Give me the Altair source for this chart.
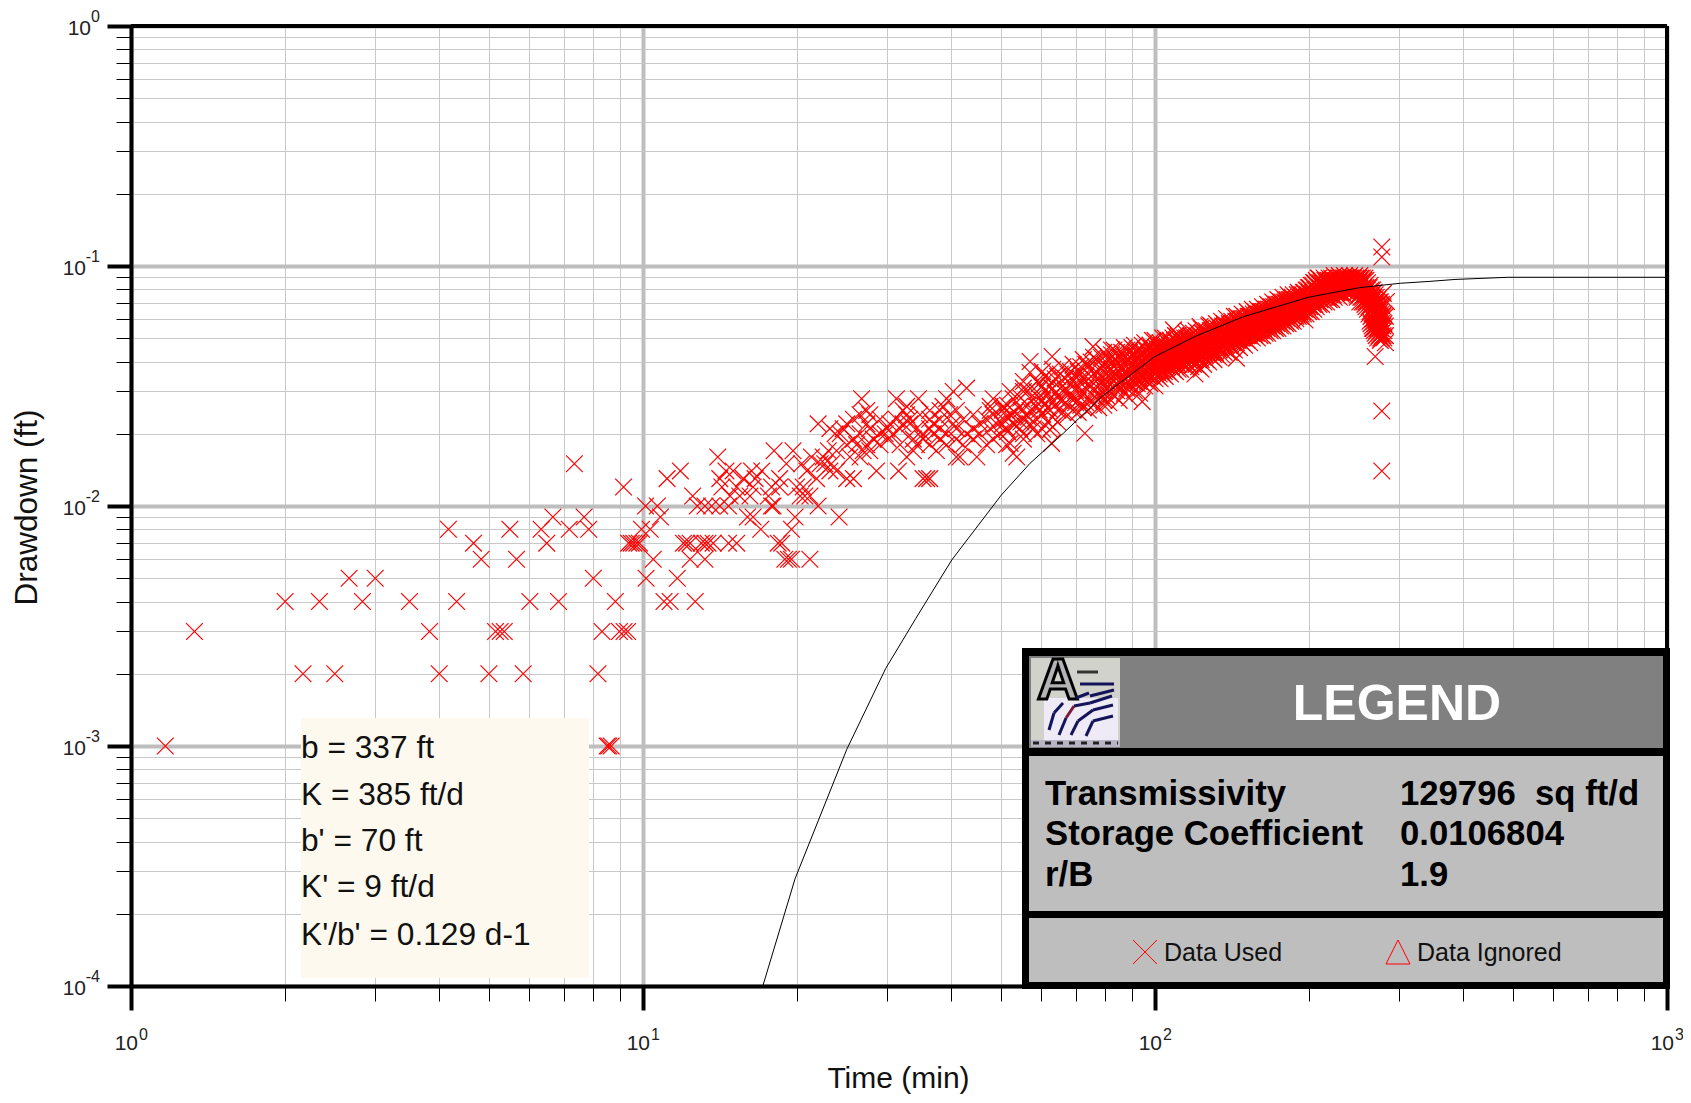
import altair as alt
import pandas as pd

SANS = "Liberation Sans"

# ---------- values ----------
x_ticks = [m * 10 ** e for e in range(0, 3) for m in range(1, 10)] + [1000]
y_ticks = [m * 10.0 ** e for e in range(-4, 0) for m in range(1, 10)] + [1]
x_exponents = ["0", "1", "2", "3"]
y_exponents = ["0", "-1", "-2", "-3", "-4"]

# log10(time) for the samples that sit on the instrument's 0.001 ft steps
steps_low = {
    0.001: [.067, .930, .933, .938],
    0.002: [.336, .398, .602, .699, .766, .912],
    0.003: [.124, .583, .712, .721, .729, .920, .954, .963, .970],
    0.004: [.301, .368, .452, .544, .636, .779, .835, .946, 1.041, 1.053, 1.102],
    0.005: [.426, .477, .903, 1.006, 1.067],
    0.006: [.684, .753, 1.020, 1.092, 1.121, 1.277, 1.284, 1.290, 1.326],
    0.007: [.669, .812, .972, .977, .982, .988, .993, 1.079, 1.085, 1.092, 1.114, 1.121, 1.127, 1.137, 1.167, 1.183, 1.264, 1.271],
    0.008: [.620, .740, .801, .856, .894, .997, 1.014, 1.230, 1.290],
    0.009: [.824, .885, 1.034, 1.204, 1.215, 1.297, 1.383],
    0.010: [1.005, 1.028, 1.106, 1.121, 1.134, 1.150, 1.167, 1.251, 1.254, 1.342],
    0.011: [1.097, 1.170, 1.189, 1.209, 1.245, 1.307, 1.316, 1.326],
    0.012: [.962, 1.154, 1.183, 1.215, 1.251, 1.267, 1.300, 1.313],
    0.013: [1.047, 1.150, 1.196, 1.219, 1.267, 1.339, 1.398, 1.411, 1.547, 1.554, 1.560],
    0.014: [1.073, 1.162, 1.176, 1.212, 1.232, 1.320, 1.365, 1.378, 1.456, 1.499],
    0.015: [.866, 1.280, 1.310, 1.346, 1.355, 1.368],
    0.016: [1.146, 1.329, 1.352, 1.404, 1.424, 1.515, 1.612, 1.619, 1.652, 1.730],
    0.017: [1.256, 1.293, 1.362, 1.378, 1.430, 1.443, 1.528, 1.573],
    0.018: [1.398, 1.417, 1.437, 1.463, 1.502, 1.534, 1.560, 1.593, 1.625, 1.671, 1.710],
    0.019: [1.411, 1.450, 1.479, 1.528, 1.547, 1.580, 1.612, 1.645, 1.684, 1.743],
    0.020: [1.375, 1.385, 1.424, 1.463, 1.473, 1.489, 1.547, 1.567, 1.593, 1.632, 1.658, 1.697, 1.743, 1.769],
    0.021: [1.365, 1.391, 1.443, 1.476, 1.502, 1.534, 1.560, 1.580, 1.612, 1.645, 1.678, 1.710, 1.736, 1.762],
    0.022: [1.342, 1.398, 1.437, 1.482, 1.508, 1.521, 1.567, 1.606, 1.658, 1.691, 1.723, 1.756],
    0.023: [1.411, 1.463, 1.495, 1.521, 1.560, 1.580, 1.625, 1.671, 1.704, 1.743, 1.769],
    0.024: [1.424, 1.443, 1.515, 1.541, 1.599, 1.645, 1.684, 1.717, 1.749],
    0.025: [1.437, 1.508, 1.560, 1.580, 1.612, 1.678, 1.710, 1.756],
    0.026: [1.515, 1.586, 1.678, 1.704, 1.736, 1.769],
    0.028: [1.427, 1.495, 1.538, 1.593, 1.684, 1.723, 1.762],
    0.030: [1.606, 1.717, 1.743, 1.769],
    0.031: [1.632, 1.743],
    0.033: [1.743, 1.769],
    0.036: [1.756],
}

# the dense band: log10(time) -> log10(drawdown) samples
band = {
    1.78: [-1.44, -1.50, -1.56, -1.62, -1.68], 1.79: [-1.47, -1.53, -1.59, -1.65],
    1.80: [-1.43, -1.51, -1.57, -1.63, -1.67], 1.81: [-1.46, -1.54, -1.60, -1.65],
    1.82: [-1.42, -1.50, -1.56, -1.61], 1.83: [-1.45, -1.52, -1.58, -1.62],
    1.84: [-1.41, -1.48, -1.55, -1.60], 1.85: [-1.44, -1.50, -1.56, -1.61],
    1.86: [-1.39, -1.47, -1.53, -1.59], 1.87: [-1.42, -1.49, -1.55, -1.60],
    1.88: [-1.38, -1.45, -1.52, -1.58], 1.89: [-1.40, -1.47, -1.53, -1.59],
    1.90: [-1.36, -1.44, -1.50, -1.56, -1.58], 1.91: [-1.39, -1.46, -1.52, -1.57],
    1.92: [-1.35, -1.42, -1.48, -1.54], 1.93: [-1.38, -1.44, -1.50, -1.56],
    1.94: [-1.34, -1.41, -1.47, -1.53], 1.95: [-1.36, -1.43, -1.49, -1.55],
    1.96: [-1.33, -1.40, -1.46, -1.52], 1.97: [-1.35, -1.41, -1.47, -1.53],
    1.98: [-1.32, -1.38, -1.44, -1.50], 1.99: [-1.33, -1.39, -1.45, -1.49],
    2.00: [-1.31, -1.37, -1.42, -1.47, -1.50], 2.01: [-1.32, -1.38, -1.43, -1.47],
    2.02: [-1.30, -1.35, -1.41, -1.46], 2.03: [-1.31, -1.36, -1.40, -1.45],
    2.04: [-1.29, -1.34, -1.39, -1.44], 2.05: [-1.30, -1.35, -1.40, -1.43],
    2.06: [-1.28, -1.33, -1.38, -1.42], 2.07: [-1.29, -1.33, -1.37, -1.42],
    2.08: [-1.27, -1.32, -1.37, -1.41], 2.09: [-1.26, -1.31, -1.35, -1.39, -1.43],
    2.10: [-1.27, -1.31, -1.35, -1.39], 2.11: [-1.25, -1.30, -1.34, -1.38],
    2.12: [-1.24, -1.28, -1.33, -1.37], 2.13: [-1.23, -1.27, -1.32, -1.37],
    2.14: [-1.22, -1.27, -1.31, -1.35], 2.15: [-1.23, -1.27, -1.31, -1.34],
    2.16: [-1.21, -1.25, -1.29, -1.33], 2.17: [-1.20, -1.24, -1.28, -1.32],
    2.18: [-1.19, -1.23, -1.27, -1.31], 2.19: [-1.18, -1.23, -1.27, -1.30],
    2.20: [-1.18, -1.22, -1.26, -1.30], 2.21: [-1.17, -1.21, -1.25, -1.29],
    2.22: [-1.16, -1.20, -1.24, -1.28], 2.23: [-1.15, -1.19, -1.23, -1.27],
    2.24: [-1.14, -1.18, -1.22, -1.26], 2.25: [-1.13, -1.17, -1.21, -1.25],
    2.26: [-1.12, -1.16, -1.20, -1.24], 2.27: [-1.12, -1.16, -1.19, -1.23],
    2.28: [-1.11, -1.15, -1.19, -1.21], 2.29: [-1.11, -1.14, -1.17, -1.20],
    2.30: [-1.09, -1.13, -1.16, -1.19], 2.31: [-1.07, -1.11, -1.15, -1.18],
    2.32: [-1.05, -1.09, -1.13, -1.16], 2.33: [-1.05, -1.08, -1.12, -1.15],
    2.34: [-1.05, -1.08, -1.11, -1.14], 2.35: [-1.04, -1.07, -1.10, -1.13],
    2.36: [-1.04, -1.07, -1.10, -1.13], 2.37: [-1.04, -1.06, -1.09, -1.12],
    2.38: [-1.04, -1.06, -1.08, -1.10], 2.39: [-1.04, -1.06, -1.08, -1.10],
    2.40: [-1.04, -1.06, -1.09, -1.12, -1.15], 2.41: [-1.05, -1.08, -1.11, -1.14, -1.16],
    2.42: [-1.08, -1.12, -1.15, -1.19, -1.23], 2.425: [-1.10, -1.14, -1.18, -1.22, -1.26],
    2.43: [-1.12, -1.16, -1.20, -1.24, -1.28], 2.435: [-1.14, -1.18, -1.22, -1.26, -1.30],
    2.44: [-1.15, -1.19, -1.23, -1.27, -1.31], 2.445: [-1.17, -1.21, -1.25, -1.29],
    2.45: [-1.21, -1.25, -1.29, -1.32],
}

# samples between those columns, where the crosses merge into a solid band
band_dense = {
    1.855: [-1.42, -1.47, -1.53, -1.58], 1.865: [-1.41, -1.46, -1.51, -1.57], 1.875: [-1.40, -1.46, -1.50, -1.56],
    1.885: [-1.39, -1.44, -1.50, -1.55], 1.895: [-1.38, -1.43, -1.49, -1.54], 1.905: [-1.37, -1.42, -1.48, -1.54],
    1.915: [-1.37, -1.43, -1.47, -1.53], 1.925: [-1.36, -1.40, -1.46, -1.52], 1.935: [-1.36, -1.42, -1.47, -1.51],
    1.945: [-1.35, -1.39, -1.45, -1.51], 1.955: [-1.34, -1.41, -1.44, -1.50], 1.965: [-1.35, -1.38, -1.43, -1.49],
    1.975: [-1.33, -1.39, -1.44, -1.49], 1.985: [-1.35, -1.40, -1.42, -1.48], 1.995: [-1.31, -1.36, -1.41, -1.46],
    2.005: [-1.33, -1.35, -1.39, -1.41, -1.44, -1.46], 2.015: [-1.30, -1.34, -1.36, -1.40, -1.42, -1.45],
    2.025: [-1.32, -1.34, -1.37, -1.39, -1.42, -1.44], 2.035: [-1.30, -1.33, -1.35, -1.38, -1.41, -1.43],
    2.045: [-1.29, -1.32, -1.36, -1.38, -1.41, -1.43], 2.055: [-1.31, -1.34, -1.36, -1.39, -1.41],
    2.065: [-1.27, -1.30, -1.35, -1.36, -1.39, -1.41], 2.075: [-1.28, -1.31, -1.34, -1.36, -1.39, -1.41],
    2.085: [-1.28, -1.30, -1.34, -1.36, -1.39, -1.42], 2.095: [-1.28, -1.30, -1.33, -1.36, -1.38, -1.41],
    2.105: [-1.25, -1.29, -1.32, -1.34, -1.37, -1.40], 2.115: [-1.26, -1.28, -1.32, -1.35, -1.37, -1.39],
    2.125: [-1.25, -1.27, -1.30, -1.32, -1.35, -1.38], 2.135: [-1.24, -1.26, -1.29, -1.31, -1.34, -1.36],
    2.145: [-1.24, -1.25, -1.29, -1.30, -1.33, -1.36], 2.155: [-1.21, -1.25, -1.28, -1.30, -1.32, -1.35],
    2.165: [-1.22, -1.24, -1.27, -1.30, -1.31, -1.34], 2.175: [-1.21, -1.22, -1.26, -1.29, -1.30, -1.33],
    2.185: [-1.20, -1.21, -1.25, -1.28, -1.29, -1.32], 2.195: [-1.19, -1.21, -1.24, -1.25, -1.28, -1.29],
    2.205: [-1.19, -1.20, -1.24, -1.25, -1.27, -1.29], 2.215: [-1.18, -1.19, -1.23, -1.24, -1.27, -1.28],
    2.225: [-1.17, -1.18, -1.22, -1.23, -1.26, -1.27], 2.235: [-1.16, -1.17, -1.21, -1.22, -1.25, -1.26],
    2.245: [-1.15, -1.16, -1.20, -1.21, -1.24, -1.25], 2.255: [-1.14, -1.15, -1.19, -1.20, -1.23, -1.24],
    2.265: [-1.13, -1.14, -1.18, -1.19, -1.22, -1.23], 2.275: [-1.13, -1.14, -1.17, -1.18, -1.21, -1.22],
    2.285: [-1.12, -1.13, -1.16, -1.18, -1.20, -1.21], 2.295: [-1.10, -1.12, -1.15, -1.16, -1.18, -1.20],
    2.305: [-1.08, -1.10, -1.12, -1.14, -1.17, -1.19], 2.315: [-1.06, -1.08, -1.10, -1.12, -1.14, -1.17],
    2.325: [-1.06, -1.07, -1.10, -1.12, -1.14, -1.16], 2.335: [-1.06, -1.07, -1.10, -1.11, -1.13, -1.15],
    2.345: [-1.05, -1.06, -1.09, -1.10, -1.12, -1.14], 2.355: [-1.05, -1.06, -1.08, -1.09, -1.11, -1.12],
    2.365: [-1.05, -1.06, -1.08, -1.09, -1.11, -1.12], 2.375: [-1.05, -1.07, -1.08, -1.10, -1.11],
    2.385: [-1.05, -1.07, -1.09, -1.11], 2.395: [-1.05, -1.07, -1.09, -1.11, -1.13],
    2.405: [-1.05, -1.07, -1.10, -1.13, -1.15], 2.415: [-1.07, -1.10, -1.13, -1.15, -1.18],
    2.418: [-1.09, -1.11, -1.14, -1.17, -1.20], 2.422: [-1.10, -1.13, -1.16, -1.21, -1.24],
    2.428: [-1.11, -1.15, -1.19, -1.23, -1.27], 2.432: [-1.13, -1.17, -1.21, -1.25, -1.29],
    2.438: [-1.15, -1.17, -1.21, -1.25, -1.29], 2.442: [-1.16, -1.20, -1.24, -1.28, -1.30],
}

# further interior samples of the same band
band_fill = {
    1.702: [-1.60, -1.66], 1.712: [-1.58, -1.63, -1.69], 1.726: [-1.61, -1.66], 1.738: [-1.55, -1.60, -1.65], 1.752: [-1.52, -1.58, -1.63],
    1.774: [-1.49, -1.55, -1.60], 1.785: [-1.46, -1.52, -1.58], 1.795: [-1.50, -1.55, -1.60], 1.805: [-1.47, -1.53, -1.58],
    1.815: [-1.45, -1.51, -1.56], 1.825: [-1.47, -1.52, -1.57], 1.835: [-1.44, -1.49, -1.55], 1.845: [-1.46, -1.52, -1.57],
    1.902: [-1.41, -1.47, -1.52], 1.908: [-1.44, -1.50], 1.922: [-1.39, -1.45, -1.50], 1.928: [-1.42, -1.48],
    1.942: [-1.38, -1.44, -1.49], 1.948: [-1.41, -1.46], 1.952: [-1.38, -1.42, -1.47], 1.958: [-1.37, -1.43, -1.48],
    1.962: [-1.37, -1.42, -1.47], 1.968: [-1.39, -1.44, -1.48], 1.972: [-1.37, -1.41, -1.46], 1.978: [-1.36, -1.41, -1.47],
    1.982: [-1.35, -1.41, -1.45], 1.988: [-1.37, -1.42, -1.46], 1.992: [-1.34, -1.38, -1.43], 1.998: [-1.36, -1.40, -1.44],
    2.002: [-1.34, -1.38, -1.40, -1.44], 2.008: [-1.34, -1.37, -1.42, -1.45], 2.012: [-1.33, -1.37, -1.40, -1.44], 2.018: [-1.33, -1.38, -1.41, -1.44],
    2.022: [-1.33, -1.36, -1.39, -1.43], 2.028: [-1.33, -1.35, -1.38, -1.41], 2.032: [-1.32, -1.35, -1.39, -1.42], 2.038: [-1.31, -1.36, -1.39, -1.41],
    2.042: [-1.31, -1.35, -1.37, -1.40], 2.048: [-1.31, -1.34, -1.37, -1.40], 2.052: [-1.32, -1.33, -1.37, -1.40], 2.058: [-1.30, -1.32, -1.37, -1.39],
    2.062: [-1.30, -1.34, -1.36, -1.40], 2.068: [-1.31, -1.32, -1.35, -1.38], 2.072: [-1.30, -1.32, -1.36, -1.38], 2.078: [-1.30, -1.33, -1.35, -1.38],
    2.082: [-1.29, -1.33, -1.35, -1.38], 2.088: [-1.29, -1.33, -1.34, -1.37], 2.092: [-1.28, -1.33, -1.35, -1.37], 2.098: [-1.29, -1.32, -1.34, -1.37],
    2.102: [-1.28, -1.30, -1.33, -1.36], 2.108: [-1.27, -1.31, -1.33, -1.36], 2.112: [-1.27, -1.29, -1.32, -1.36], 2.118: [-1.27, -1.30, -1.33, -1.36],
    2.122: [-1.26, -1.29, -1.32, -1.34], 2.128: [-1.26, -1.29, -1.31, -1.34], 2.132: [-1.25, -1.28, -1.30, -1.33], 2.138: [-1.25, -1.28, -1.30, -1.33],
    2.142: [-1.25, -1.28, -1.30, -1.32], 2.148: [-1.25, -1.26, -1.30, -1.33], 2.152: [-1.24, -1.26, -1.29, -1.32], 2.158: [-1.23, -1.26, -1.29, -1.31],
    2.162: [-1.23, -1.26, -1.28, -1.31], 2.168: [-1.22, -1.25, -1.28, -1.30], 2.172: [-1.22, -1.25, -1.27, -1.30], 2.178: [-1.22, -1.24, -1.27, -1.29],
    2.182: [-1.21, -1.24, -1.26, -1.29], 2.188: [-1.21, -1.24, -1.26, -1.28], 2.192: [-1.20, -1.22, -1.26, -1.28], 2.198: [-1.20, -1.23, -1.25, -1.28],
    2.202: [-1.20, -1.23, -1.25, -1.27], 2.208: [-1.19, -1.22, -1.24, -1.27], 2.212: [-1.19, -1.22, -1.24, -1.26], 2.218: [-1.18, -1.21, -1.23, -1.26],
    2.222: [-1.18, -1.21, -1.23, -1.25], 2.228: [-1.17, -1.20, -1.22, -1.25], 2.232: [-1.17, -1.20, -1.22, -1.24], 2.238: [-1.16, -1.19, -1.21, -1.24],
    2.242: [-1.16, -1.19, -1.21, -1.23], 2.248: [-1.15, -1.18, -1.20, -1.23], 2.252: [-1.15, -1.18, -1.20, -1.22], 2.258: [-1.14, -1.17, -1.19, -1.22],
    2.262: [-1.14, -1.17, -1.19, -1.21], 2.268: [-1.13, -1.15, -1.18, -1.21], 2.272: [-1.14, -1.15, -1.18, -1.20], 2.278: [-1.12, -1.15, -1.17, -1.20],
    2.282: [-1.12, -1.14, -1.17, -1.19], 2.288: [-1.12, -1.15, -1.16, -1.19], 2.292: [-1.11, -1.13, -1.16, -1.18], 2.298: [-1.10, -1.12, -1.15, -1.17],
    2.302: [-1.09, -1.11, -1.14, -1.17], 2.308: [-1.08, -1.11, -1.14, -1.16], 2.312: [-1.07, -1.10, -1.13, -1.16], 2.318: [-1.07, -1.10, -1.12, -1.15],
    2.322: [-1.07, -1.09, -1.12, -1.14], 2.328: [-1.07, -1.09, -1.11, -1.13], 2.332: [-1.06, -1.09, -1.11, -1.13], 2.338: [-1.06, -1.09, -1.11, -1.13],
    2.342: [-1.06, -1.08, -1.10, -1.12], 2.348: [-1.06, -1.08, -1.10, -1.12], 2.352: [-1.06, -1.08, -1.10, -1.11], 2.358: [-1.05, -1.07, -1.09, -1.11],
    2.362: [-1.05, -1.07, -1.09, -1.11], 2.368: [-1.05, -1.07, -1.08, -1.10], 2.372: [-1.05, -1.07, -1.08, -1.10], 2.378: [-1.05, -1.07, -1.09, -1.10],
    2.382: [-1.05, -1.07, -1.09], 2.388: [-1.05, -1.07, -1.09], 2.392: [-1.05, -1.07, -1.09], 2.398: [-1.05, -1.07, -1.10, -1.12],
    2.402: [-1.05, -1.08, -1.11, -1.13], 2.408: [-1.06, -1.09, -1.12, -1.15], 2.412: [-1.06, -1.09, -1.12, -1.15, -1.17],
    2.424: [-1.12, -1.16, -1.20, -1.25], 2.427: [-1.13, -1.17, -1.22, -1.26], 2.433: [-1.15, -1.19, -1.23, -1.27], 2.437: [-1.16, -1.20, -1.24, -1.28],
    2.441: [-1.18, -1.22, -1.26, -1.30], 2.447: [-1.20, -1.24, -1.27, -1.30],
}

# isolated crosses around the band
outlier_time = [1.863, 1.798, 1.795, 1.975, 1.756, 1.799, 1.915, 2.036, 1.879, 1.717, 1.723, 2.088, 2.107, 2.159, 2.078, 2.293, 2.319, 2.43, 2.443, 2.443, 2.443, 2.443, 2.446, 2.452]
outlier_draw = [-1.697, -1.739, -1.683, -1.565, -1.398, -1.377, -1.35, -1.266, -1.336, -1.739, -1.78, -1.252, -1.245, -1.384, -1.45, -1.225, -1.051, -1.377, -0.921, -0.9625, -1.604, -1.854, -1.114, -1.148]

# fitted leaky-aquifer type curve (log10 time, log10 drawdown)
curve_time = [1.234, 1.297, 1.398, 1.474, 1.533, 1.603, 1.700, 1.756, 1.821, 1.896, 2.0, 2.078, 2.173, 2.3, 2.40, 2.479, 2.537, 2.586, 2.69, 3.0]
curve_draw = [-4.0, -3.553, -3.014, -2.677, -2.468, -2.225, -1.954, -1.822, -1.697, -1.544, -1.377, -1.294, -1.211, -1.130, -1.09, -1.072, -1.064, -1.056, -1.047, -1.047]

aquifer_lines = ["b = 337 ft", "K = 385 ft/d", "b' = 70 ft", "K' = 9 ft/d", "K'/b' = 0.129 d-1"]
result_names = ["Transmissivity", "Storage Coefficient", "r/B"]
result_values = ["129796\u00a0\u00a0sq ft/d", "0.0106804", "1.9"]

# ---------- tables ----------
rows = [(10 ** t, s) for s, ts in steps_low.items() for t in ts]
rows += [(10 ** t, 10 ** s) for cols in (band, band_dense, band_fill) for t, ss in cols.items() for s in ss]
rows += [(10 ** t, 10 ** s) for t, s in zip(outlier_time, outlier_draw)]
points = pd.DataFrame(rows, columns=["time", "drawdown"])
curve = pd.DataFrame({"time": [10 ** t for t in curve_time], "drawdown": [10 ** s for s in curve_draw]})

W, H = 1536, 960
X0, Y0 = 131, 26   # plot origin on the page, used for annotation placement only
xscale = alt.Scale(type="log", domain=[1, 1000], nice=False)
yscale = alt.Scale(type="log", domain=[0.0001, 1], nice=False)
MAJOR = "abs(log(datum.value)/LN10-round(log(datum.value)/LN10))<0.001"

common_axis = dict(
    labels=False, domainColor="black", domainWidth=4, tickColor="black",
    tickSize={"expr": f"({MAJOR})?24:15"}, tickWidth={"expr": f"({MAJOR})?4:1"},
    grid=True, gridColor={"expr": f"({MAJOR})?'#bebebe':'#c8c8c8'"}, gridWidth={"expr": f"({MAJOR})?4:1"},
    titleFont=SANS, titleFontWeight="normal", titleColor="#111111",
)
x_axis = alt.Axis(values=x_ticks, title="Time (min)", titleFontSize=30, titleX=767, titleY=101, titleBaseline="alphabetic", titleAnchor="middle", titleAlign="center", **common_axis)
y_axis = alt.Axis(values=y_ticks, title="Drawdown (ft)", titleFontSize=31.5, titleX=-104, titleY=481, titleBaseline="middle", titleAnchor="middle", titleAlign="center", titleAngle=270, **common_axis)
X = lambda f: alt.X(f, scale=xscale, axis=x_axis)
Y = lambda f: alt.Y(f, scale=yscale, axis=y_axis)


def px(v):
    return alt.value(v - X0)


def py(v):
    return alt.value(v - Y0)


def box(x1, y1, x2, y2, color, **kw):
    return alt.Chart().mark_rect(color=color, **kw).encode(x=px(x1), x2=px(x2), y=py(y1), y2=py(y2))


def seg(x1, y1, x2, y2, color, width=2, **kw):
    return alt.Chart().mark_rule(color=color, strokeWidth=width, **kw).encode(x=px(x1), x2=px(x2), y=py(y1), y2=py(y2))


def label(txt, x, y, size, weight="normal", color="black", align="left", font=SANS, **kw):
    return alt.Chart().mark_text(text=txt, font=font, fontSize=size, fontWeight=weight, color=color,
                                 align=align, baseline="alphabetic", **kw).encode(x=px(x), y=py(y))


layers = []

# note box
layers.append(box(301, 718, 589, 978, "#fdf9ef"))
for txt, base in zip(aquifer_lines, [758, 805, 851, 897, 945]):
    layers.append(label(txt, 301, base, 31.7, color="#111111"))

# data
X_SHAPE = "M -1 -1 L 1 1 M -1 1 L 1 -1"
layers.append(alt.Chart(points).mark_point(shape=X_SHAPE, size=280, filled=False, color="#ff0000", strokeWidth=1.2, opacity=1).encode(
    x=X("time:Q"), y=Y("drawdown:Q")))
layers.append(alt.Chart(curve).mark_line(color="black", strokeWidth=1).encode(x=X("time:Q"), y=Y("drawdown:Q")))

# top and right frame
frame_y = pd.DataFrame({"v": [1]})
frame_x = pd.DataFrame({"v": [1000]})
layers.append(alt.Chart(frame_y).mark_rule(color="black", strokeWidth=4).encode(y=Y("v:Q")))
layers.append(alt.Chart(frame_x).mark_rule(color="black", strokeWidth=4).encode(x=X("v:Q")))

# tick labels: base "10" and raised exponent
xt = pd.DataFrame({"v": [1, 10, 100, 1000], "e": x_exponents, "b": ["10"] * 4})
yt = pd.DataFrame({"v": [1, 0.1, 0.01, 0.001, 0.0001], "e": y_exponents, "b": ["10"] * 5})
lab = dict(font=SANS, color="#222222", baseline="alphabetic")
layers.append(alt.Chart(xt).mark_text(align="right", dx=7, fontSize=21, **lab).encode(
    x=X("v:Q"), y=alt.value(H + 64), text="b:N"))
layers.append(alt.Chart(xt).mark_text(align="left", dx=8, fontSize=16, **lab).encode(
    x=X("v:Q"), y=alt.value(H + 54), text="e:N"))
layers.append(alt.Chart(yt).transform_filter("datum.v==1").mark_text(align="right", dy=9, fontSize=21, **lab).encode(
    y=Y("v:Q"), x=alt.value(-40), text="b:N"))
layers.append(alt.Chart(yt).transform_filter("datum.v<1").mark_text(align="right", dy=9, fontSize=21, **lab).encode(
    y=Y("v:Q"), x=alt.value(-45), text="b:N"))
layers.append(alt.Chart(yt).mark_text(align="right", dy=-4, fontSize=16, **lab).encode(
    y=Y("v:Q"), x=alt.value(-31), text="e:N"))

# legend panel
layers.append(box(1022, 648, 1670, 989, "black"))
layers.append(box(1029, 656, 1663, 748, "#808080"))
layers.append(box(1029, 756, 1663, 911, "#bebebe"))
layers.append(box(1029, 918, 1663, 982, "#bebebe"))

# program icon in the header
layers.append(box(1031, 658, 1120, 747, "#d2d2cc"))
layers.append(box(1044, 698, 1118, 740, "#eeeaf6"))
layers.append(box(1031, 740, 1120, 747, "#b8b4c4"))
layers.append(alt.Chart().mark_text(text="A", font=SANS, fontSize=58, fontWeight="bold", color="#b4b4b4", stroke="black", strokeWidth=3,
                                    align="center", baseline="alphabetic").encode(x=px(1058), y=py(699)))
for a, b, c, d, col in [
    (1077, 672, 1098, 672, "#333333"), (1080, 684, 1114, 684, "#14145a"), (1090, 696, 1114, 690, "#14145a"),
    (1049, 730, 1054, 713, "#14145a"), (1054, 713, 1063, 703, "#14145a"), (1076, 698, 1089, 693, "#14145a"),
    (1059, 735, 1066, 718, "#14145a"), (1066, 718, 1074, 706, "#7a1a3a"), (1074, 706, 1090, 703, "#14145a"), (1090, 703, 1112, 696, "#14145a"),
    (1071, 735, 1078, 721, "#14145a"), (1078, 721, 1093, 710, "#14145a"), (1093, 710, 1113, 705, "#14145a"),
    (1086, 736, 1093, 721, "#14145a"), (1093, 721, 1113, 716, "#14145a"),
]:
    layers.append(seg(a, b, c, d, col, 3))
layers.append(seg(1033, 743, 1118, 743, "#222222", 3, strokeDash=[6, 6]))

layers.append(label("LEGEND", 1397, 720, 50, "bold", "white", "center"))
for name, val, base in zip(result_names, result_values, [805, 845, 886]):
    layers.append(label(name, 1045, base, 34.7, "bold"))
    layers.append(label(val, 1400, base, 34.7, "bold"))

layers.append(alt.Chart().mark_point(shape=X_SHAPE, size=576, filled=False, color="#ff0000", strokeWidth=1, opacity=1).encode(x=px(1145), y=py(952)))
layers.append(alt.Chart().mark_point(shape="M -1 1 L 0 -1 L 1 1 Z", size=576, filled=False, color="#ff0000", strokeWidth=1, opacity=1).encode(x=px(1398), y=py(952)))
layers.append(label("Data Used", 1164, 961, 25, color="#111111"))
layers.append(label("Data Ignored", 1417, 961, 25, color="#111111"))

chart = alt.layer(*layers).properties(
    width=W, height=H,
    padding={"left": 123, "top": 18, "right": 16, "bottom": 109},
    autosize=alt.AutoSizeParams(type="none"),
    background="white",
).configure_view(stroke=None)

chart.save("out.html", embed_options={"renderer": "svg", "actions": False})
